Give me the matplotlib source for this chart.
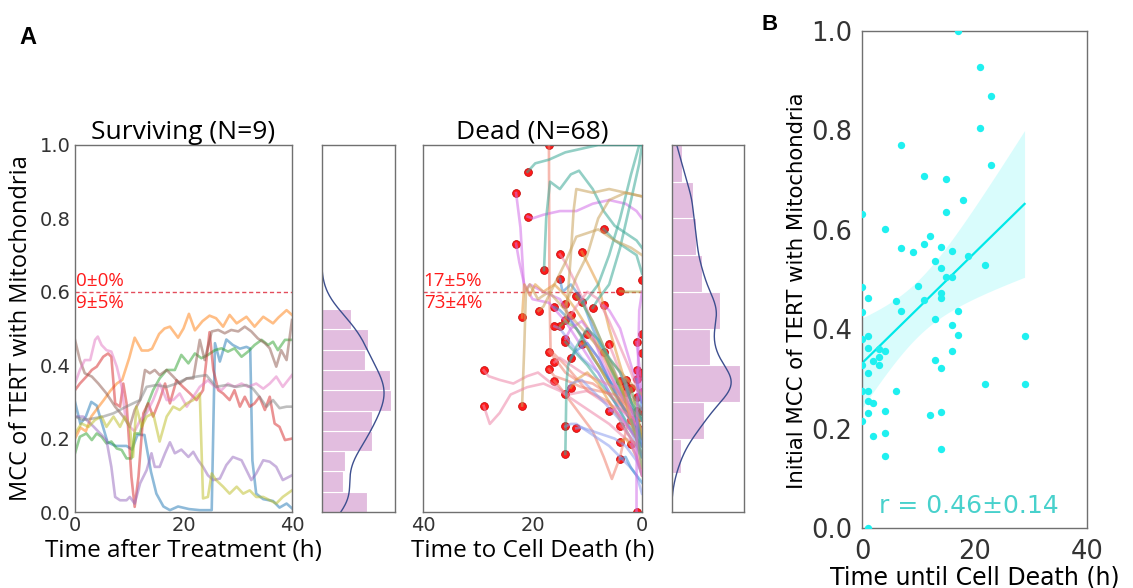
import numpy as np
import matplotlib.pyplot as plt

# ---------------------------
# Surviving cells: MCC vs time after treatment (h)
# ---------------------------
surv_blue = [(0, 0.30), (1, 0.24), (2, 0.26), (3, 0.30), (4, 0.29), (5, 0.24), (6, 0.19), (7.5, 0.18),
             (9.5, 0.18), (10.5, 0.17), (11.5, 0.21), (12.8, 0.21), (14, 0.11), (15, 0.05), (16.3, 0.015),
             (17.5, 0.005), (19, 0.015), (21, 0.008), (23, 0.005), (25.2, 0.005), (25.8, 0.46), (26.7, 0.41),
             (27.9, 0.47), (29.1, 0.455), (30.4, 0.445), (31.6, 0.45), (32.3, 0.445), (32.7, 0.14), (33.4, 0.05),
             (34.7, 0.035), (36.5, 0.03), (37.7, 0.012), (39, 0.023), (40, 0.01)]
surv_orange = [(0, 0.20), (1, 0.23), (2, 0.22), (3, 0.26), (4, 0.28), (5.3, 0.305), (6.5, 0.33), (7.7, 0.35),
               (8.7, 0.36), (10, 0.42), (11, 0.475), (12.3, 0.44), (13.5, 0.44), (14.2, 0.445), (15.5, 0.485),
               (16.5, 0.50), (17.5, 0.505), (19, 0.475), (20, 0.50), (21, 0.54), (22.1, 0.495), (23.5, 0.52),
               (24.8, 0.535), (26, 0.528), (27.3, 0.505), (28.5, 0.537), (29.8, 0.514), (31.6, 0.532),
               (33.1, 0.505), (34.7, 0.532), (36.5, 0.514), (37.5, 0.53), (39, 0.55), (40, 0.537)]
surv_green = [(0, 0.16), (0.9, 0.205), (2.1, 0.214), (3.1, 0.196), (4, 0.214), (4.9, 0.205), (5.8, 0.187),
              (6.7, 0.192), (7.7, 0.173), (8.6, 0.169), (9.5, 0.146), (10.4, 0.146), (11, 0.214), (12, 0.214),
              (13.2, 0.287), (14.4, 0.332), (15.6, 0.364), (16.9, 0.387), (18.4, 0.387), (19.6, 0.428),
              (20.9, 0.405), (22.1, 0.432), (23.3, 0.419), (24.5, 0.428), (25.8, 0.441), (27, 0.446),
              (28.2, 0.437), (29.4, 0.446), (30.7, 0.423), (31.9, 0.437), (33.1, 0.455), (34.4, 0.469),
              (35.6, 0.455), (36.5, 0.464), (37.4, 0.441), (38.7, 0.469), (40, 0.469)]
surv_red = [(0, 0.332), (0.9, 0.35), (2.1, 0.369), (3.1, 0.387), (4, 0.396), (5.2, 0.423), (6.1, 0.432),
            (6.7, 0.423), (7.4, 0.296), (8.3, 0.287), (8.9, 0.35), (9.5, 0.296), (10.4, 0.096), (11, 0.014),
            (11.7, 0.096), (12.6, 0.269), (13.5, 0.296), (14.4, 0.26), (15.6, 0.305), (16.6, 0.35),
            (17.5, 0.296), (18.7, 0.359), (19.9, 0.341), (21.2, 0.323), (22.4, 0.305), (23.6, 0.332),
            (24.8, 0.49), (25.5, 0.387), (26.4, 0.332), (27.3, 0.323), (28.5, 0.305), (29.4, 0.332),
            (30.4, 0.287), (31.3, 0.314), (32.2, 0.287), (33.1, 0.296), (34, 0.314), (35, 0.278),
            (35.9, 0.314), (36.8, 0.241), (37.7, 0.232), (38.7, 0.196), (40, 0.2)]
surv_purple = [(0, 0.26), (1.5, 0.26), (3.4, 0.233), (5.8, 0.196), (6.7, 0.123), (7.4, 0.041), (8.3, 0.032),
               (9.5, 0.032), (10.1, 0.041), (11, 0.023), (12, 0.078), (13.2, 0.114), (14.1, 0.16),
               (14.7, 0.123), (15.6, 0.123), (16.6, 0.16), (17.5, 0.19), (18.4, 0.16), (19.6, 0.17),
               (20.9, 0.15), (21.8, 0.164), (22.7, 0.141), (23.6, 0.123), (24.5, 0.10), (25.5, 0.087),
               (26.7, 0.091), (27.9, 0.128), (29.1, 0.15), (30.7, 0.141), (31.6, 0.114), (32.5, 0.087),
               (33.4, 0.105), (34.7, 0.141), (35.9, 0.137), (37.1, 0.123), (38.3, 0.087), (40, 0.10)]
surv_brown = [(0, 0.469), (0.9, 0.414), (1.8, 0.378), (3.1, 0.369), (4.3, 0.35), (5.8, 0.323), (7.4, 0.287),
              (8.9, 0.26), (10.1, 0.232), (11, 0.278), (12, 0.305), (12.9, 0.387), (13.8, 0.378),
              (14.7, 0.387), (15.6, 0.373), (16.9, 0.387), (18.1, 0.369), (19.3, 0.35), (20.6, 0.364),
              (21.8, 0.364), (23, 0.469), (23.9, 0.414), (25.2, 0.492), (26.4, 0.496), (27.6, 0.487),
              (28.8, 0.496), (30.1, 0.492), (31.3, 0.505), (32.5, 0.492), (33.7, 0.473), (35, 0.46),
              (35.9, 0.446), (37.1, 0.396), (38, 0.441), (39, 0.414), (40, 0.523)]
surv_pink = [(0, 0.35), (0.9, 0.387), (1.8, 0.414), (2.8, 0.414), (3.7, 0.469), (4.2, 0.478), (4.9, 0.455),
             (5.8, 0.441), (6.7, 0.437), (7.7, 0.396), (8.6, 0.341), (9.2, 0.269), (10.1, 0.232), (11, 0.22),
             (12, 0.25), (13.2, 0.27), (14.4, 0.305), (15.6, 0.35), (16.9, 0.305), (18.1, 0.305),
             (19.3, 0.323), (20.6, 0.287), (21.8, 0.314), (23, 0.341), (24.5, 0.359), (25.8, 0.341),
             (27, 0.332), (28.2, 0.35), (29.4, 0.341), (30.7, 0.35), (31.9, 0.341), (33.4, 0.35),
             (34.7, 0.336), (35.9, 0.35), (37.1, 0.369), (38.3, 0.341), (40, 0.373)]
surv_gray = [(0, 0.26), (1.5, 0.251), (3.4, 0.255), (5.2, 0.26), (7.1, 0.269), (8.9, 0.283), (10.7, 0.296),
             (12, 0.305), (13.2, 0.341), (15, 0.346), (16.9, 0.341), (18.7, 0.35), (20.6, 0.364),
             (22.4, 0.369), (24.2, 0.373), (26, 0.341), (27.9, 0.346), (29.8, 0.341), (31.6, 0.346),
             (32.8, 0.336), (34, 0.314), (35.3, 0.287), (36.5, 0.305), (37.7, 0.283), (39, 0.287), (40, 0.287)]
surv_olive = [(0, 0.214), (1.2, 0.241), (2.5, 0.232), (3.7, 0.251), (4.9, 0.26), (5.8, 0.232), (7.1, 0.26),
              (8.3, 0.232), (9.2, 0.26), (10.1, 0.232), (10.7, 0.15), (11.3, 0.287), (12.3, 0.232),
              (13.2, 0.26), (14.4, 0.269), (15.6, 0.192), (16.9, 0.26), (18.1, 0.287), (19.3, 0.278),
              (20.6, 0.296), (21.8, 0.305), (23, 0.323), (23.6, 0.037), (24.5, 0.041), (25.2, 0.105),
              (26, 0.087), (27.3, 0.069), (28.5, 0.05), (29.8, 0.069), (31, 0.05), (32.2, 0.059),
              (33.4, 0.041), (34.7, 0.041), (35.9, 0.032), (37.1, 0.023), (38.3, 0.041), (40, 0.059)]
surv_lines = [surv_blue, surv_orange, surv_green, surv_red, surv_purple,
              surv_brown, surv_pink, surv_gray, surv_olive]
surv_colors = ["tab:blue", "tab:orange", "tab:green", "tab:red", "tab:purple",
               "tab:brown", "tab:pink", "tab:gray", "tab:olive"]

# histogram of surviving MCC (density)
surv_bin_edges = [0.0, 0.0553, 0.1106, 0.1659, 0.2212, 0.2765, 0.3318, 0.3871, 0.4424, 0.4977, 0.553]
surv_density = [1.82, 0.88, 0.94, 2.02, 2.02, 2.79, 2.74, 1.75, 1.89, 1.19]

# ---------------------------
# Dead cells: start point (time to death, initial MCC) and path to death
# ---------------------------
dead_t0 = [17.0, 20.9, 23.0, 20.9, 7.0, 23.0, 11.0, 15.0, 17.9, 0.0, 15.0, 4.0, 12.0, 11.0, 14.0, 7.0, 9.0,
           16.0, 18.9, 21.9, 13.0, 14.0, 15.0, 16.0, 0.0, 10.0, 1.0, 14.0, 14.0, 11.0, 6.0, 0.0, 7.0, 17.0,
           13.0, 16.0, 17.0, 1.0, 28.9, 1.0, 3.0, 4.0, 16.0, 3.0, 2.0, 13.0, 3.0, 0.0, 1.0, 14.0, 21.9, 28.9,
           1.0, 6.0, 0.0, 1.0, 2.0, 4.0, 1.0, 12.0, 14.0, 0.0, 4.0, 2.0, 14.0, 4.0, 1.0, 0.0]
dead_v0 = [1.0, 0.927, 0.869, 0.805, 0.771, 0.731, 0.709, 0.702, 0.659, 0.632, 0.635, 0.602, 0.588, 0.571,
           0.566, 0.563, 0.556, 0.558, 0.548, 0.530, 0.537, 0.524, 0.506, 0.506, 0.485, 0.486, 0.463, 0.472,
           0.463, 0.459, 0.457, 0.434, 0.437, 0.437, 0.420, 0.408, 0.389, 0.387, 0.386, 0.362, 0.361, 0.356,
           0.357, 0.344, 0.337, 0.339, 0.327, 0.327, 0.312, 0.321, 0.290, 0.289, 0.276, 0.275, 0.276, 0.255,
           0.251, 0.235, 0.232, 0.228, 0.233, 0.216, 0.192, 0.185, 0.158, 0.144, 0.0, 0.38]
dead_paths = [
    [(16.9, 0.60), (16.7, 0.44), (14, 0.40), (10, 0.33), (6, 0.30), (3, 0.24), (1, 0.20), (0, 0.18)],
    [(19.5, 0.95), (17, 0.96), (14, 0.98), (11, 0.99), (8, 1.0), (4, 1.0), (0, 1.0)],
    [(22.2, 0.775), (21.5, 0.60), (20.5, 0.62), (18, 0.60), (15, 0.58), (12, 0.50), (8, 0.42), (4, 0.30), (1, 0.22), (0, 0.20)],
    [(20, 0.80), (18, 0.81), (15, 0.82), (12, 0.82), (9, 0.84), (6, 0.85), (3, 0.84), (1, 0.82), (0, 0.80)],
    [(5, 0.74), (3, 0.72), (1, 0.70), (0, 0.65)],
    [(22.4, 0.68), (21.5, 0.62), (20, 0.58), (17, 0.57), (14, 0.52), (11, 0.45), (8, 0.38), (5, 0.30), (2, 0.25), (0, 0.22)],
    [(10, 0.68), (8, 0.62), (6, 0.50), (4, 0.40), (2, 0.30), (0, 0.25)],
    [(14, 0.68), (12, 0.62), (10, 0.55), (7, 0.45), (4, 0.35), (2, 0.28), (0, 0.20)],
    [(17.5, 0.80), (16.8, 0.90), (15, 0.88), (13, 0.92), (11.5, 0.93), (9, 0.88), (7, 0.82), (5, 0.78), (3, 0.76), (1, 0.74), (0, 0.72)],
    [],
    [(14.5, 0.60), (13, 0.62), (11, 0.58), (9, 0.50), (6, 0.40), (3, 0.30), (0, 0.25)],
    [(3, 0.60), (2, 0.60), (1, 0.60), (0, 0.60)],
    [(11, 0.57), (9, 0.52), (7, 0.45), (5, 0.38), (3, 0.30), (1, 0.22), (0, 0.18)],
    [(10, 0.58), (8, 0.62), (6, 0.70), (4, 0.80), (2, 0.92), (0.5, 1.0)],
    [(13, 0.60), (12, 0.64), (10, 0.70), (8, 0.80), (6, 0.85), (3, 0.87), (0, 0.86)],
    [(6, 0.55), (4, 0.50), (2, 0.40), (0, 0.30)],
    [(8, 0.58), (6, 0.62), (4, 0.72), (2, 0.85), (0.5, 0.95), (0, 1.0)],
    [(15, 0.55), (13, 0.52), (11, 0.48), (9, 0.42), (6, 0.36), (3, 0.30), (0, 0.25)],
    [(18, 0.56), (16, 0.62), (14, 0.68), (12, 0.75), (10, 0.76), (8, 0.77), (5, 0.74), (2, 0.72), (0, 0.70)],
    [(21.5, 0.62), (20.5, 0.59), (19.5, 0.62), (18, 0.60), (16, 0.62), (14, 0.59), (12, 0.55), (9, 0.48), (6, 0.40), (3, 0.32), (0, 0.28)],
    [(12, 0.56), (10, 0.60), (8, 0.58), (6, 0.52), (4, 0.45), (2, 0.38), (0, 0.30)],
    [(13.5, 0.60), (13, 0.70), (12.5, 0.82), (12, 0.88), (9, 0.87), (6, 0.88), (3, 0.87), (0, 0.86)],
    [(14, 0.52), (12, 0.50), (10, 0.45), (8, 0.40), (5, 0.32), (2, 0.25), (0, 0.20)],
    [(15, 0.50), (13, 0.46), (11, 0.42), (8, 0.38), (5, 0.30), (2, 0.22), (0, 0.15)],
    [],
    [(9, 0.47), (7, 0.42), (5, 0.35), (3, 0.28), (1, 0.20), (0, 0.15)],
    [(0.5, 0.40), (0, 0.30)],
    [(13, 0.50), (11, 0.52), (9, 0.48), (7, 0.40), (5, 0.35), (2, 0.28), (0, 0.22)],
    [(12.5, 0.44), (10, 0.40), (8, 0.36), (5, 0.30), (3, 0.25), (1, 0.20), (0, 0.18)],
    [(10, 0.45), (8, 0.40), (6, 0.35), (4, 0.30), (2, 0.25), (0, 0.20)],
    [(5, 0.42), (4, 0.38), (2, 0.32), (1, 0.30), (0, 0.28)],
    [],
    [(6, 0.40), (4, 0.34), (2, 0.28), (0, 0.22)],
    [(16, 0.42), (14, 0.38), (12, 0.36), (9, 0.35), (6, 0.32), (3, 0.28), (0, 0.22)],
    [(12, 0.44), (10, 0.46), (8, 0.42), (6, 0.36), (4, 0.30), (2, 0.25), (0, 0.20)],
    [(15, 0.42), (13, 0.40), (11, 0.38), (8, 0.36), (5, 0.34), (2, 0.28), (0, 0.25)],
    [(16, 0.37), (14, 0.36), (11, 0.34), (8, 0.33), (5, 0.32), (2, 0.28), (0, 0.25)],
    [(0, 0.30)],
    [(28, 0.37), (26, 0.36), (23.5, 0.35), (21, 0.37), (19, 0.38), (16.5, 0.35), (13.5, 0.32), (10, 0.33), (7, 0.30), (4, 0.28), (1, 0.25), (0, 0.22)],
    [(0, 0.28)],
    [(2, 0.30), (1, 0.25), (0, 0.20)],
    [(3, 0.30), (2, 0.25), (1, 0.20), (0, 0.15)],
    [(15, 0.34), (13, 0.30), (11, 0.26), (9, 0.22), (7, 0.15), (5.5, 0.09), (4, 0.15), (2.5, 0.25), (1, 0.22), (0, 0.20)],
    [(2, 0.28), (1, 0.22), (0, 0.18)],
    [(1, 0.28), (0, 0.20)],
    [(12, 0.36), (10, 0.38), (8, 0.35), (6, 0.30), (4, 0.25), (2, 0.20), (0, 0.16)],
    [(2, 0.25), (1, 0.20), (0, 0.12)],
    [],
    [(0, 0.25)],
    [(13, 0.35), (11, 0.36), (9, 0.33), (7, 0.30), (4, 0.25), (2, 0.20), (0, 0.15)],
    [(21.5, 0.45), (21.2, 0.60), (20.5, 0.62), (19, 0.58), (17, 0.60), (14, 0.55), (11, 0.50), (8, 0.45), (5, 0.40), (2, 0.35), (0, 0.32)],
    [(27.8, 0.24), (26, 0.27), (24, 0.32), (21, 0.34), (18, 0.35), (15, 0.33), (12, 0.30), (9, 0.27), (6, 0.24), (3, 0.20), (0, 0.18)],
    [(0, 0.20)],
    [(5, 0.28), (4, 0.26), (3, 0.24), (1, 0.20), (0, 0.15)],
    [],
    [(0, 0.18)],
    [(1, 0.20), (0, 0.12)],
    [(3, 0.22), (2, 0.20), (1, 0.16), (0, 0.10)],
    [(0, 0.15)],
    [(11, 0.23), (9, 0.22), (7, 0.21), (5, 0.20), (3, 0.18), (1, 0.14), (0, 0.10)],
    [(13, 0.24), (12, 0.24), (10, 0.22), (8, 0.20), (6, 0.18), (4, 0.15), (2, 0.12), (1, 0.10), (0, 0.05)],
    [],
    [(3, 0.20), (2, 0.18), (1, 0.15), (0, 0.10)],
    [(1, 0.15), (0, 0.10)],
    [(13.9, 0.25), (13.8, 0.35), (13.5, 0.40), (12, 0.45), (10, 0.50), (8, 0.47), (6, 0.42), (4, 0.38), (2, 0.30), (0, 0.25)],
    [(3, 0.15), (2, 0.12), (1, 0.10), (0, 0.08)],
    [(1, 0.10), (0.8, 0.35), (0.5, 0.55), (0, 0.60)],
    [],
]
dead_colors = ["salmon", "teal", "violet", "violet", "teal", "violet", "orange", "pink", "teal", "teal",
               "blue", "olive", "green", "teal", "tan", "violet", "teal", "blue", "tan", "orange",
               "pink", "tan", "green", "lightblue", "teal", "salmon", "violet", "violet", "teal", "orange",
               "pink", "teal", "green", "salmon", "blue", "pink", "salmon", "violet", "pink", "blue",
               "teal", "orange", "salmon", "violet", "green", "orange", "pink", "teal", "teal", "lightblue",
               "tan", "pink", "orange", "violet", "teal", "blue", "green", "pink", "teal", "lightblue",
               "lightblue", "teal", "orange", "violet", "teal", "blue", "violet", "teal"]
palette = {"teal": "#3aa896", "violet": "#d36fe8", "orange": "#e39a3c", "tan": "#c9a25c",
           "salmon": "#f0806e", "pink": "#ee86a8", "blue": "#3f8fd6", "lightblue": "#8c9df0",
           "green": "#6fb35c", "olive": "#a8a040"}

# histogram of dead MCC (density)
dead_bin_edges = [0.105, 0.2, 0.3, 0.4, 0.5, 0.6, 0.7, 0.8, 0.9, 1.0]
dead_density = [0.33, 1.14, 2.43, 1.36, 1.71, 1.07, 0.86, 0.75, 0.36]

# threshold and fractions above / below
threshold = 0.6
surv_above, surv_below = "0±0%", "9±5%"
dead_above, dead_below = "17±5%", "73±4%"
r_text = "r = 0.46±0.14"

label_font = ["Open Sans", "DejaVu Sans"]
red = "#ff1a1a"


def kde_from_hist(edges, dens, grid, bw):
    edges = np.asarray(edges)
    centers = (edges[:-1] + edges[1:]) / 2
    w = np.asarray(dens) * np.diff(edges)
    w = w / w.sum()
    out = np.zeros_like(grid)
    for c, wi in zip(centers, w):
        out += wi * np.exp(-0.5 * ((grid - c) / bw) ** 2) / (bw * np.sqrt(2 * np.pi))
    return out


def style_axes(ax, size=14):
    for s in ax.spines.values():
        s.set_color("#707070")
        s.set_linewidth(1.0)
    ax.tick_params(length=0, labelsize=size, colors="#333333", pad=3)


fig = plt.figure(figsize=(11.33, 5.88), dpi=100)
W, H = 1133, 588


def add_ax(x0, x1, y_top, y_bot):
    return fig.add_axes([x0 / W, 1 - y_bot / H, (x1 - x0) / W, (y_bot - y_top) / H])


ax_s = add_ax(75, 292, 145, 512)
ax_sh = add_ax(321.5, 395, 145, 512)
ax_d = add_ax(423, 642, 145, 512)
ax_dh = add_ax(671.5, 744, 145, 512)
ax_b = add_ax(862, 1087, 31, 528)

# ---- surviving lines
for line, c in zip(surv_lines, surv_colors):
    t = [p[0] for p in line]
    v = [p[1] for p in line]
    ax_s.plot(t, v, color=c, alpha=0.5, lw=1.9)
ax_s.axhline(threshold, color="#e03a4a", lw=1, ls=(0, (3, 2)), alpha=0.9)
ax_s.text(0.003, threshold + 0.004, surv_above, transform=ax_s.get_yaxis_transform(), color=red,
          fontsize=13.5, va="bottom", ha="left", family=label_font)
ax_s.text(0.003, threshold - 0.006, surv_below, transform=ax_s.get_yaxis_transform(), color=red,
          fontsize=13.5, va="top", ha="left", family=label_font)
ax_s.set_xlim(0, 40)
ax_s.set_ylim(0, 1)
ax_s.set_xticks([0, 20, 40])
ax_s.set_yticks([0, 0.2, 0.4, 0.6, 0.8, 1.0])
ax_s.set_title("Surviving (N=9)", fontsize=19, family=label_font, pad=2)
ax_s.set_xlabel("Time after Treatment (h)", fontsize=17.5, family=label_font, labelpad=3)
ax_s.set_ylabel("MCC of TERT with Mitochondria", fontsize=17, family=label_font)
ax_s.yaxis.set_label_coords(-0.194, 0.50)
style_axes(ax_s)

# ---- histograms with kde
hist_color = "#e2bddf"
for ax, edges, dens, top, xmax in [(ax_sh, surv_bin_edges, surv_density, 0.75, 2.96),
                                   (ax_dh, dead_bin_edges, dead_density, 1.0, 2.57)]:
    ax.barh(edges[:-1], dens, height=np.diff(edges), align="edge", color=hist_color,
            edgecolor="white", linewidth=0.8)
    grid = np.linspace(0, top, 300)
    ax.plot(kde_from_hist(edges, dens, grid, 0.055), grid, color="#3d4f8f", lw=1.0)
    ax.set_ylim(0, 1)
    ax.set_xlim(0, xmax)
    ax.set_xticks([])
    ax.set_yticks([])
    style_axes(ax)

# ---- dead lines
ax_d.scatter(dead_t0, dead_v0, s=32, color=red, edgecolor="#c00000", linewidth=0.5, zorder=2)
for t0, v0, path, cname in zip(dead_t0, dead_v0, dead_paths, dead_colors):
    if not path:
        continue
    t = [t0] + [p[0] for p in path]
    v = [v0] + [p[1] for p in path]
    ax_d.plot(t, v, color=palette[cname], alpha=0.55, lw=1.9, zorder=3)
ax_d.axhline(threshold, color="#e03a4a", lw=1, ls=(0, (3, 2)), alpha=0.9, zorder=1)
ax_d.text(0.003, threshold + 0.004, dead_above, transform=ax_d.get_yaxis_transform(), color=red,
          fontsize=13.5, va="bottom", ha="left", family=label_font)
ax_d.text(0.003, threshold - 0.006, dead_below, transform=ax_d.get_yaxis_transform(), color=red,
          fontsize=13.5, va="top", ha="left", family=label_font)
ax_d.set_xlim(40, 0)
ax_d.set_ylim(0, 1)
ax_d.set_xticks([40, 20, 0])
ax_d.set_yticks([])
ax_d.set_title("Dead (N=68)", fontsize=19, family=label_font, pad=2)
ax_d.set_xlabel("Time to Cell Death (h)", fontsize=17.5, family=label_font, labelpad=3)
style_axes(ax_d)

# ---- panel B: initial MCC vs time until death
x = np.asarray(dead_t0)
y = np.asarray(dead_v0)
slope, icpt = np.polyfit(x, y, 1)
xg = np.linspace(x.min(), x.max(), 100)
yg = icpt + slope * xg
res = y - (icpt + slope * x)
s = np.sqrt((res ** 2).sum() / (len(x) - 2))
se = s * np.sqrt(1 / len(x) + (xg - x.mean()) ** 2 / ((x - x.mean()) ** 2).sum())
ax_b.fill_between(xg, yg - 2.65 * se, yg + 2.65 * se, color="#00f0f0", alpha=0.15, lw=0)
ax_b.plot(xg, yg, color="#00e8e8", lw=1.6)
ax_b.scatter(x, y, s=28, color="#1ff0f0", lw=0, zorder=3)
ax_b.text(0.475, 0.045, r_text, transform=ax_b.transAxes, color="#48d1cc", fontsize=18,
          ha="center", va="center")
ax_b.set_xlim(0, 40)
ax_b.set_ylim(0, 1)
ax_b.set_xticks([0, 20, 40])
ax_b.set_yticks([0, 0.2, 0.4, 0.6, 0.8, 1.0])
ax_b.set_xlabel("Time until Cell Death (h)", fontsize=17, labelpad=0)
ax_b.set_ylabel("Initial MCC of TERT with Mitochondria", fontsize=15.3)
ax_b.yaxis.set_label_coords(-0.244, 0.477)
style_axes(ax_b, size=18.5)
ax_b.tick_params(axis="x", pad=8)
ax_b.tick_params(axis="y", pad=7)

fig.text(28 / W, 1 - 37 / H, "A", fontsize=17, fontweight="bold", family="Liberation Sans",
         ha="center", va="center")
fig.text(770 / W, 1 - 25 / H, "B", fontsize=16, fontweight="bold", family="Liberation Sans",
         ha="center", va="center")

fig.savefig("out.png", dpi=100)
